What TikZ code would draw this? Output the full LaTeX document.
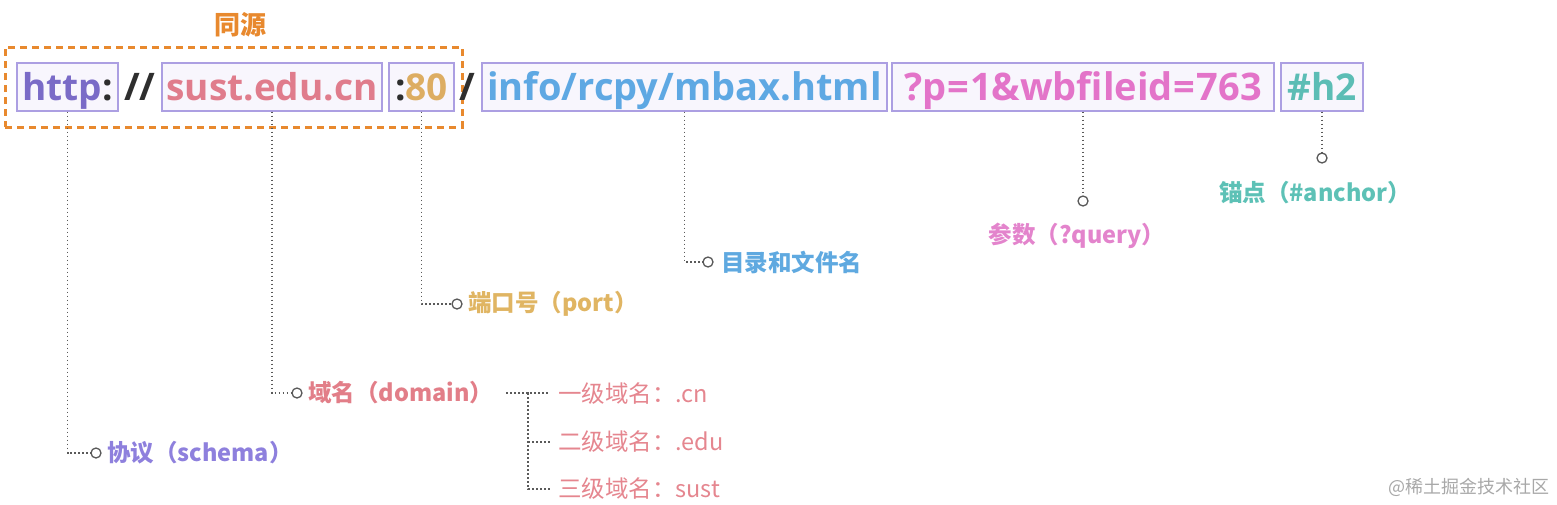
\documentclass[tikz,border=0pt]{standalone}
\usepackage{fontspec}
\setmainfont{Open Sans}
\newfontfamily\cjk{Noto Sans CJK SC}
\definecolor{boxc}{HTML}{AC9FE2}
\definecolor{boxf}{HTML}{F8F6FD}
\definecolor{cDark}{HTML}{2E2E2E}
\definecolor{cHttp}{HTML}{7A6BC7}
\definecolor{cSust}{HTML}{E07C8C}
\definecolor{cPort}{HTML}{DDAD62}
\definecolor{cInfo}{HTML}{5EA8E3}
\definecolor{cQuery}{HTML}{E374C9}
\definecolor{cHash}{HTML}{5CBDB5}
\definecolor{lSchema}{HTML}{8E80DD}
\definecolor{lDomain}{HTML}{E27E88}
\definecolor{lPort}{HTML}{E0B563}
\definecolor{lDir}{HTML}{5FA9E0}
\definecolor{lQuery}{HTML}{E384CC}
\definecolor{lHash}{HTML}{5DC1B6}
\definecolor{lSub}{HTML}{E5868F}
\definecolor{cOrange}{HTML}{E8892E}
\definecolor{cGray}{HTML}{5A5A5A}
\definecolor{cWm}{HTML}{A8A8A8}
\begin{document}
\begin{tikzpicture}[x=1pt,y=-1pt,
  urlbox/.style={draw=boxc, fill=boxf, line width=1.2pt, inner xsep=0pt, inner ysep=0pt,
    text height=37pt, text depth=11pt, anchor=base,
    font=\fontsize{37}{40}\selectfont\bfseries},
  sep/.style={anchor=base, inner sep=0pt, text=cDark, font=\fontsize{38}{40}\selectfont\bfseries},
  conn/.style={draw=cGray, line width=1.3pt, dash pattern=on 1.8pt off 2.2pt},
  pin/.style={circle, draw=cGray, line width=1.3pt, fill=white, inner sep=0pt, minimum size=10pt},
  lbl/.style={inner sep=1pt, font=\fontsize{23.5}{26}\selectfont\cjk\bfseries},
  sublbl/.style={inner xsep=8pt, inner ysep=1pt, anchor=west, text=lSub, font=\fontsize{23.5}{26}\selectfont\cjk}
]
\useasboundingbox (0,0) rectangle (1557,504);

% same-origin frame
\node[draw=cOrange, line width=3pt, dash pattern=on 7pt off 5pt, minimum width=457pt, minimum height=80pt, inner sep=0pt] (same) at (233.5,87) {};
\node[text=cOrange, font=\fontsize{26}{30}\selectfont\cjk\bfseries, inner sep=0pt] (samelbl) at (240,25) {同源};

% URL parts
\node[urlbox, minimum width=101pt, text=cHttp] (http) at (67.5,100) {http\textcolor{cDark}{:}};
\node[sep] (sl2) at (140,100) {//};
\node[urlbox, minimum width=220pt, text=cSust] (host) at (272,100) {sust.edu.cn};
\node[urlbox, minimum width=65pt, text=cPort] (port) at (421.5,100) {\textcolor{cDark}{:}80};
\node[sep] (sl1) at (467,100) {/};
\node[urlbox, minimum width=405pt, text=cInfo, font=\fontsize{38}{40}\selectfont\bfseries] (path) at (684.5,100) {info/rcpy/mbax.html};
\node[urlbox, minimum width=382pt, text=cQuery, font=\fontsize{38}{40}\selectfont\bfseries] (query) at (1083,100) {?p{\kern1pt}={\kern1pt}1\&wbfileid{\kern1pt}={\kern1pt}763};
\node[urlbox, minimum width=82pt, text=cHash] (hash) at (1322,100) {\#h2};

% pins
\node[pin] (p1) at (96,453) {};
\node[pin] (p2) at (297,393) {};
\node[pin] (p3) at (457,304) {};
\node[pin] (p4) at (708,262) {};
\node[pin] (p5) at (1083,201) {};
\node[pin] (p6) at (1322,158) {};

% labels
\node[lbl, anchor=west, text=lSchema] (l1) at (106,453) {协议（schema）};
\node[lbl, anchor=west, text=lDomain] (l2) at (307,393) {域名（domain）};
\node[lbl, anchor=west, text=lPort] (l3) at (467,304) {端口号（port）};
\node[lbl, anchor=west, text=lDir] (l4) at (720,262) {目录和文件名};
\node[lbl, text=lQuery] (l5) at (1077,236) {参数（?query）};
\node[lbl, text=lHash] (l6) at (1315,193) {锚点（\#anchor）};

% connectors
\draw[conn] (http.south) |- (p1);
\draw[conn] (host.south) |- (p2);
\draw[conn] (port.south) |- (p3);
\draw[conn] (path.south) |- (p4);
\draw[conn] (query.south) -- (p5);
\draw[conn] (hash.south) -- (p6);

% domain levels
\node[sublbl] (s1) at (550,394) {一级域名：.cn};
\node[sublbl] (s2) at (550,442) {二级域名：.edu};
\node[sublbl] (s3) at (550,489) {三级域名：sust};
\coordinate (tj) at (528,393);
\draw[conn] ([xshift=12pt]l2.east) -- (tj) -- (s1.west |- tj);
\draw[conn] (tj) |- (s3.west);
\draw[conn] (tj |- s2.west) -- (s2.west);

% watermark
\node[text=cWm, font=\fontsize{18}{20}\selectfont\cjk, inner sep=0pt] (wm) at (1469,487) {@稀土掘金技术社区};
\end{tikzpicture}
\end{document}
